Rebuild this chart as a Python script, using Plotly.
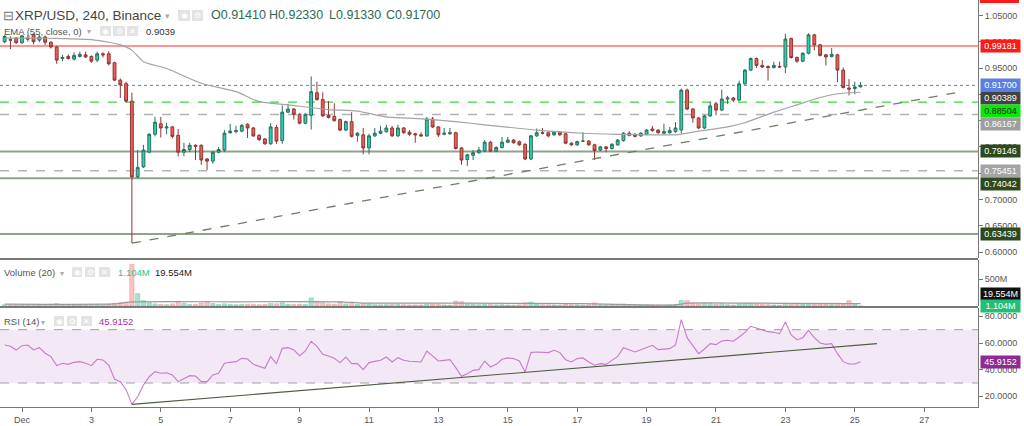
import plotly.graph_objects as go
import pandas as pd

# ---------------- data ----------------
start_time = '2018-11-30 12:00'
n_candles = 149

opens = [1.000, 1.004, 1.007, 0.998, 1.007, 1.014, 1.003, 1.009, 0.999, 0.990,
         0.968, 0.972, 0.967, 0.972, 0.975, 0.972, 0.965, 0.977, 0.977, 0.960,
         0.927, 0.920, 0.887, 0.743, 0.762, 0.790, 0.824, 0.844, 0.836, 0.838,
         0.822, 0.790, 0.795, 0.803, 0.803, 0.777, 0.773, 0.790, 0.794, 0.827,
         0.829, 0.830, 0.843, 0.836, 0.822, 0.815, 0.806, 0.837, 0.812, 0.866,
         0.872, 0.862, 0.845, 0.860, 0.903, 0.890, 0.860, 0.858, 0.852, 0.832,
         0.848, 0.822, 0.823, 0.798, 0.821, 0.826, 0.829, 0.836, 0.821, 0.836,
         0.828, 0.825, 0.823, 0.821, 0.853, 0.838, 0.824, 0.825, 0.827, 0.798,
         0.776, 0.784, 0.789, 0.792, 0.809, 0.792, 0.799, 0.809, 0.813, 0.810,
         0.805, 0.777, 0.821, 0.827, 0.827, 0.823, 0.828, 0.825, 0.807, 0.804,
         0.811, 0.811, 0.804, 0.794, 0.800, 0.797, 0.804, 0.812, 0.826, 0.824,
         0.821, 0.824, 0.834, 0.832, 0.826, 0.827, 0.829, 0.832, 0.908, 0.872,
         0.855, 0.836, 0.859, 0.882, 0.870, 0.891, 0.893, 0.889, 0.920, 0.946,
         0.968, 0.955, 0.953, 0.951, 0.953, 0.952, 1.006, 0.970, 0.963, 0.978,
         1.013, 0.994, 0.975, 0.972, 0.975, 0.946, 0.912, 0.911, 0.9141]
highs = [1.013, 1.010, 1.009, 1.013, 1.012, 1.016, 1.013, 1.012, 1.001, 0.992,
         0.975, 0.976, 0.980, 0.981, 0.981, 0.974, 0.981, 0.980, 0.982, 0.962,
         0.930, 0.924, 0.903, 0.794, 0.804, 0.826, 0.857, 0.857, 0.846, 0.840,
         0.834, 0.808, 0.808, 0.805, 0.805, 0.779, 0.792, 0.800, 0.832, 0.844,
         0.840, 0.843, 0.845, 0.838, 0.824, 0.817, 0.845, 0.842, 0.879, 0.882,
         0.874, 0.864, 0.864, 0.934, 0.924, 0.904, 0.887, 0.883, 0.854, 0.850,
         0.866, 0.828, 0.836, 0.825, 0.836, 0.840, 0.842, 0.840, 0.842, 0.838,
         0.832, 0.827, 0.828, 0.857, 0.857, 0.840, 0.836, 0.836, 0.829, 0.800,
         0.787, 0.794, 0.800, 0.813, 0.811, 0.801, 0.819, 0.819, 0.815, 0.812,
         0.807, 0.823, 0.835, 0.836, 0.829, 0.830, 0.830, 0.827, 0.809, 0.812,
         0.828, 0.813, 0.806, 0.802, 0.802, 0.807, 0.815, 0.828, 0.830, 0.826,
         0.828, 0.834, 0.840, 0.834, 0.844, 0.838, 0.847, 0.911, 0.911, 0.874,
         0.857, 0.861, 0.886, 0.886, 0.909, 0.897, 0.895, 0.926, 0.948, 0.970,
         0.970, 0.965, 0.955, 0.962, 0.962, 1.015, 1.008, 0.972, 0.980, 1.016,
         1.015, 0.996, 0.977, 0.988, 0.977, 0.951, 0.929, 0.924, 0.9233]
lows = [0.997, 0.986, 0.996, 0.996, 1.000, 0.995, 0.999, 0.994, 0.987, 0.958,
        0.963, 0.966, 0.964, 0.970, 0.969, 0.960, 0.961, 0.970, 0.955, 0.925,
        0.893, 0.884, 0.617, 0.740, 0.760, 0.788, 0.820, 0.818, 0.824, 0.816,
        0.782, 0.782, 0.790, 0.775, 0.766, 0.756, 0.768, 0.788, 0.790, 0.825,
        0.826, 0.828, 0.817, 0.819, 0.811, 0.804, 0.804, 0.806, 0.806, 0.865,
        0.852, 0.843, 0.843, 0.833, 0.888, 0.857, 0.854, 0.848, 0.830, 0.830,
        0.818, 0.810, 0.786, 0.786, 0.819, 0.824, 0.827, 0.819, 0.819, 0.825,
        0.821, 0.808, 0.819, 0.819, 0.836, 0.819, 0.822, 0.823, 0.795, 0.766,
        0.764, 0.775, 0.787, 0.790, 0.790, 0.790, 0.797, 0.807, 0.806, 0.802,
        0.775, 0.775, 0.819, 0.824, 0.818, 0.821, 0.821, 0.805, 0.802, 0.802,
        0.809, 0.802, 0.775, 0.792, 0.790, 0.795, 0.802, 0.810, 0.820, 0.818,
        0.819, 0.822, 0.829, 0.825, 0.824, 0.825, 0.827, 0.826, 0.870, 0.846,
        0.834, 0.834, 0.857, 0.860, 0.868, 0.882, 0.885, 0.887, 0.918, 0.944,
        0.950, 0.950, 0.926, 0.949, 0.950, 0.940, 0.968, 0.960, 0.961, 0.976,
        0.984, 0.972, 0.955, 0.970, 0.923, 0.911, 0.898, 0.900, 0.9133]
closes = [1.010, 1.003, 0.998, 1.011, 1.005, 1.000, 1.009, 0.999, 0.990, 0.965,
          0.970, 0.968, 0.974, 0.976, 0.971, 0.963, 0.977, 0.975, 0.958, 0.927,
          0.918, 0.887, 0.743, 0.761, 0.794, 0.824, 0.847, 0.836, 0.838, 0.820,
          0.790, 0.795, 0.803, 0.801, 0.775, 0.773, 0.790, 0.795, 0.826, 0.830,
          0.831, 0.841, 0.836, 0.821, 0.814, 0.806, 0.838, 0.811, 0.866, 0.872,
          0.862, 0.845, 0.862, 0.905, 0.890, 0.859, 0.856, 0.850, 0.832, 0.848,
          0.820, 0.826, 0.798, 0.821, 0.826, 0.830, 0.836, 0.821, 0.836, 0.827,
          0.824, 0.823, 0.821, 0.853, 0.838, 0.823, 0.826, 0.827, 0.797, 0.775,
          0.785, 0.789, 0.794, 0.809, 0.792, 0.799, 0.809, 0.813, 0.808, 0.804,
          0.777, 0.821, 0.827, 0.826, 0.821, 0.828, 0.823, 0.807, 0.804, 0.810,
          0.811, 0.804, 0.793, 0.800, 0.797, 0.805, 0.813, 0.826, 0.822, 0.820,
          0.826, 0.832, 0.831, 0.827, 0.829, 0.831, 0.836, 0.908, 0.872, 0.855,
          0.836, 0.859, 0.878, 0.870, 0.891, 0.893, 0.889, 0.920, 0.946, 0.968,
          0.955, 0.952, 0.951, 0.955, 0.952, 1.005, 0.970, 0.963, 0.978, 1.013,
          0.994, 0.974, 0.971, 0.976, 0.946, 0.913, 0.910, 0.914, 0.9170]

volumes_m = [25, 20, 22, 28, 18, 30, 22, 26, 30, 45,
             25, 20, 22, 18, 20, 28, 30, 18, 35, 50,
             60, 70, 770, 230, 100, 60, 40, 30, 25, 40,
             80, 50, 30, 30, 55, 80, 45, 30, 40, 30,
             25, 30, 35, 30, 25, 28, 45, 40, 60, 35,
             30, 35, 30, 150, 90, 60, 40, 35, 80, 40,
             45, 30, 45, 40, 25, 22, 25, 30, 28, 25,
             20, 22, 20, 40, 35, 30, 20, 18, 90, 80,
             40, 30, 25, 30, 28, 22, 25, 20, 18, 22,
             60, 70, 35, 25, 22, 20, 18, 40, 25, 22,
             18, 22, 60, 25, 20, 22, 28, 35, 25, 22,
             20, 25, 22, 20, 18, 22, 28, 100, 100, 60,
             40, 50, 45, 35, 45, 25, 20, 40, 45, 50,
             40, 30, 25, 20, 18, 50, 45, 30, 30, 40,
             35, 30, 28, 25, 50, 40, 100, 30, 1.104]

rsi = [58.5, 57.5, 54.7, 58.0, 58.5, 54.8, 56.5, 52.3, 49.8, 43.0,
       44.8, 44.0, 45.5, 46.0, 44.8, 43.0, 47.8, 47.3, 43.5, 33.0,
       31.0, 25.0, 14.0, 19.7, 28.5, 34.7, 38.5, 37.3, 37.7, 36.0,
       31.0, 33.0, 35.5, 35.2, 31.0, 31.0, 36.0, 37.3, 44.8, 45.5,
       46.0, 48.5, 48.0, 44.0, 42.5, 41.0, 49.8, 44.3, 56.0, 56.5,
       54.8, 50.5, 54.0, 61.3, 57.5, 51.5, 50.3, 48.5, 45.3, 49.5,
       44.5, 44.5, 40.0, 45.3, 46.2, 47.0, 49.5, 45.8, 49.0, 47.0,
       46.3, 45.8, 45.8, 54.0, 50.5, 46.5, 47.0, 47.5, 41.5, 35.0,
       37.0, 39.5, 40.0, 46.5, 42.0, 44.0, 47.8, 48.8, 48.3, 46.5,
       38.3, 52.8, 53.2, 53.0, 52.8, 54.5, 52.8, 47.5, 45.8, 48.3,
       48.8, 45.8, 43.3, 44.5, 44.0, 47.0, 50.0, 56.5, 55.0, 53.3,
       55.0, 56.8, 58.3, 55.0, 55.5, 55.8, 58.5, 77.5, 64.0, 58.0,
       52.0, 55.5, 59.5, 58.8, 61.5, 62.0, 61.3, 64.5, 68.0, 72.5,
       71.0, 69.8, 68.5, 68.0, 67.0, 75.8, 66.0, 62.5, 64.0, 69.5,
       64.0, 60.0, 59.0, 59.5, 52.0, 46.0, 44.2, 44.2, 45.9152]

ema_idx = [0, 5, 10, 15, 18, 20, 22, 24, 28, 34, 40, 44, 49, 56, 61, 66,
           73, 78, 83, 92, 100, 106, 112, 116, 120, 125, 128, 133, 137, 141, 144, 148]
ema_val = [1.007, 1.007, 1.006, 1.004, 0.999, 0.994, 0.984, 0.962, 0.949, 0.921,
           0.905, 0.886, 0.880, 0.871, 0.868, 0.857, 0.853, 0.848, 0.842, 0.832,
           0.826, 0.824, 0.823, 0.823, 0.830, 0.838, 0.846, 0.866, 0.880, 0.894,
           0.901, 0.9039]

vma_idx = [0, 19, 22, 40, 58, 62, 80, 100, 108, 112, 116, 118, 135, 148]
vma_val = [35, 38, 75, 78, 78, 55, 52, 45, 25, 15, 20, 55, 50, 45]

trend_price_t = ['2018-12-04 04:00', '2018-12-28 00:40']
trend_price_v = [0.617, 0.9044]
trend_rsi_t = ['2018-12-04 04:00', '2018-12-25 15:20']
trend_rsi_v = [14.0, 59.5]

# horizontal levels: value, line colour, dash, width, label bg, label text colour
levels = [
    (0.99181, '#ff2a2a', 'solid', 1.2, '#ff1a1a', 'white'),
    (0.91700, '#5a7be0', 'dot', 1.0, '#5b7fe0', 'white'),
    (0.88504, '#3ad83a', 'dash', 1.2, '#0be60b', '#10300f'),
    (0.86167, '#b4b4b4', 'dash', 1.5, '#9e9e9e', 'white'),
    (0.79146, '#8fa28a', 'solid', 2.0, '#2c4a1e', 'white'),
    (0.75451, '#b4b4b4', 'dash', 1.5, '#a4a4a4', 'white'),
    (0.74042, '#8fa28a', 'solid', 2.0, '#2c4a1e', 'white'),
    (0.63439, '#8fa28a', 'solid', 2.0, '#2c4a1e', 'white'),
]
ema_label = (0.90389, '#424242', 'white')

price_ticks = [0.60, 0.65, 0.70, 0.75, 0.80, 0.85, 0.90, 0.95, 1.00, 1.05]
price_tick_text = ['0.60000', '0.65000', '0.70000', '', '0.80000', '', '', '0.95000', '1.00000', '1.05000']
rsi_ticks = [20, 40, 60, 80]
date_ticks = ['2018-12-01', '2018-12-03', '2018-12-05', '2018-12-07', '2018-12-09',
              '2018-12-11', '2018-12-13', '2018-12-15', '2018-12-17', '2018-12-19',
              '2018-12-21', '2018-12-23', '2018-12-25', '2018-12-27']
date_labels = ['Dec', '3', '5', '7', '9', '11', '13', '15', '17', '19', '21', '23', '25', '27']

# ---------------- layout constants ----------------
W, H = 1024, 426
PLOT_W = 978
PLOT_H = 407
MAIN_BOT = 258
VOL_TOP, VOL_BOT = 260, 306
RSI_TOP = 308
Y_MIN, Y_MAX = 0.5888, 1.0793
VOL_MAX = 852
RSI_MIN, RSI_MAX = 12.0, 86.25
FONT = 'Liberation Sans'

times = pd.date_range(start_time, periods=n_candles, freq='4h')


def px_x(x):
    return x / PLOT_W


def px_y(y):
    return 1 - y / PLOT_H


fig = go.Figure()

# candles
fig.add_trace(go.Candlestick(
    x=times, open=opens, high=highs, low=lows, close=closes,
    increasing=dict(line=dict(color='#2b6e5c', width=1), fillcolor='#2ccfb3'),
    decreasing=dict(line=dict(color='#8c3935', width=1), fillcolor='#ef5b55'),
    whiskerwidth=0, xaxis='x', yaxis='y', hoverinfo='skip'))

# EMA
fig.add_trace(go.Scatter(x=[times[i] for i in ema_idx], y=ema_val, mode='lines',
                         line=dict(color='#a3a3a3', width=1.2, shape='spline', smoothing=0.6),
                         xaxis='x', yaxis='y', hoverinfo='skip'))

# price trend line
fig.add_trace(go.Scatter(x=trend_price_t, y=trend_price_v, mode='lines',
                         line=dict(color='#6e7f62', width=1.3, dash='dash'),
                         xaxis='x', yaxis='y', hoverinfo='skip'))

# volume
vcol = ['rgba(38,196,150,0.42)' if c >= o else 'rgba(240,90,86,0.36)' for o, c in zip(opens, closes)]
vline = ['rgba(30,170,120,0.55)' if c >= o else 'rgba(230,80,80,0.5)' for o, c in zip(opens, closes)]
fig.add_trace(go.Bar(x=times, y=volumes_m, marker=dict(color=vcol, line=dict(color=vline, width=0.5)),
                     xaxis='x', yaxis='y2', hoverinfo='skip'))
fig.add_trace(go.Scatter(x=[times[i] for i in vma_idx], y=vma_val, mode='lines',
                         line=dict(color='#9a9a9a', width=1.2, shape='spline', smoothing=0.5),
                         xaxis='x', yaxis='y2', hoverinfo='skip'))

# RSI
fig.add_trace(go.Scatter(x=times, y=rsi, mode='lines', line=dict(color='#c77cc9', width=1.1),
                         xaxis='x', yaxis='y3', hoverinfo='skip'))
fig.add_trace(go.Scatter(x=trend_rsi_t, y=trend_rsi_v, mode='lines',
                         line=dict(color='#4b5e3e', width=1.1),
                         xaxis='x', yaxis='y3', hoverinfo='skip'))

shapes = []
# rsi band
shapes.append(dict(type='rect', xref='paper', x0=0, x1=1, yref='y3', y0=30, y1=70,
                   fillcolor='rgba(150,50,160,0.11)', line=dict(width=0), layer='below'))
for v in (30, 70):
    shapes.append(dict(type='line', xref='paper', x0=0, x1=1, yref='y3', y0=v, y1=v,
                       line=dict(color='#a0a0a0', width=1, dash='dash'), layer='below'))
# price levels
for val, lc, dash, lw, _, _ in levels:
    shapes.append(dict(type='line', xref='paper', x0=0, x1=1, yref='y', y0=val, y1=val,
                       line=dict(color=lc, width=lw, dash=dash), layer='below'))
# pane separators
for sy in (259, 307):
    shapes.append(dict(type='line', xref='paper', x0=0, x1=1, yref='paper', y0=px_y(sy), y1=px_y(sy),
                       line=dict(color='#7a7a7a', width=2)))
# cut red label at the very top of the price scale
shapes.append(dict(type='rect', xref='paper', x0=px_x(980), x1=px_x(1019), yref='paper',
                   y0=px_y(3), y1=px_y(0), fillcolor='#ff1a1a', line=dict(width=0)))

annotations = []


def text(x, y, s, size, color, anchor='left'):
    annotations.append(dict(xref='paper', yref='paper', x=px_x(x), y=px_y(y), text=s,
                            showarrow=False, xanchor=anchor, yanchor='middle', borderpad=0,
                            font=dict(family=FONT, size=size, color=color)))


def icon(x0, x1, y0, y1, glyph):
    shapes.append(dict(type='rect', xref='paper', yref='paper', x0=px_x(x0), x1=px_x(x1),
                       y0=px_y(y1), y1=px_y(y0), fillcolor='#e3e3e3', line=dict(width=0)))
    annotations.append(dict(xref='paper', yref='paper', x=px_x((x0 + x1) / 2), y=px_y((y0 + y1) / 2),
                            text=glyph, showarrow=False, xanchor='center', yanchor='middle',
                            font=dict(family='DejaVu Sans', size=8, color='white')))


# header line 1
text(8, 15, '⊟', 13, '#777', 'center')
text(14, 15, 'XRP/USD, 240, Binance', 13.5, '#444')
text(167, 16, '▾', 9, '#aaa', 'center')
icon(178, 190, 10, 21, '◉')
icon(192, 203, 10, 21, '⚙')
text(210, 15, 'O0.91410', 12.5, '#2e6b55')
text(268, 15, 'H0.92330', 12.5, '#2e6b55')
text(328, 15, 'L0.91330', 12.5, '#2e6b55')
text(385, 15, 'C0.91700', 12.5, '#2e6b55')
# header line 2
text(3, 31, 'EMA (55, close, 0)', 9.5, '#555')
text(89, 32, '▾', 8, '#aaa', 'center')
icon(100, 111, 26, 36, '◉')
icon(113, 125, 26, 36, '⚙')
icon(127, 138, 26, 36, '✕')
text(145, 31, '0.9039', 9.5, '#333')
# volume header
text(3, 272, 'Volume (20)', 9.5, '#555')
text(62, 273, '▾', 8, '#aaa', 'center')
icon(72, 82, 267, 277, '◉')
icon(85, 95, 267, 277, '⚙')
icon(99, 110, 267, 277, '✕')
text(117, 272, '1.104M', 9.5, '#35c08a')
text(154, 272, '19.554M', 9.5, '#222')
# rsi header
text(3, 321, 'RSI (14)', 9.5, '#555')
text(43, 322, '▾', 8, '#aaa', 'center')
icon(54, 64, 316, 326, '◉')
icon(67, 77, 316, 326, '⚙')
icon(81, 92, 316, 326, '✕')
text(98, 321, '45.9152', 9.5, '#9c36a6')


def price_px(p):
    return (Y_MAX - p) / (Y_MAX - Y_MIN) * MAIN_BOT


def axis_label(y_px, s, bg, fg):
    annotations.append(dict(xref='paper', yref='paper', x=1, y=px_y(y_px), xanchor='left',
                            yanchor='middle', xshift=2, text=s, showarrow=False,
                            width=37, height=10, borderpad=1, bgcolor=bg, align='center',
                            font=dict(family=FONT, size=9, color=fg)))


# stacked labels of the price scale
lab = [(v, bg, fg) for v, _, _, _, bg, fg in levels] + [ema_label]
lab.sort(key=lambda t: -t[0])
prev = -100
for v, bg, fg in lab:
    y = max(price_px(v), prev + 13)
    axis_label(y, f'{v:.5f}', bg, fg)
    prev = y

vol_px = VOL_BOT - volumes_m[-1] / VOL_MAX * (VOL_BOT - VOL_TOP)
axis_label(vol_px - 12, '19.554M', '#111111', 'white')
axis_label(vol_px, '1.104M', '#20c07a', 'white')
rsi_px = RSI_TOP + (RSI_MAX - rsi[-1]) / (RSI_MAX - RSI_MIN) * (PLOT_H - RSI_TOP)
axis_label(rsi_px, '45.9152', '#8e2a90', 'white')

tickfont = dict(family=FONT, size=9, color='#555')
common_y = dict(side='right', anchor='x', showgrid=False, zeroline=False, showline=True,
                linecolor='#777', linewidth=1, ticks='outside', ticklen=4, tickcolor='#777',
                tickfont=tickfont, fixedrange=True, automargin=False)

fig.update_layout(
    width=W, height=H, margin=dict(l=0, r=W - PLOT_W, t=0, b=H - PLOT_H, autoexpand=False),
    paper_bgcolor='white', plot_bgcolor='white', showlegend=False, hovermode=False,
    bargap=0.25,
    xaxis=dict(domain=[0, 1], anchor='y3', range=['2018-11-30 08:47', '2018-12-28 13:13'],
               tickvals=date_ticks, ticktext=date_labels, ticks='outside', ticklen=4,
               tickcolor='#777', showline=True, linecolor='#777', linewidth=1, showgrid=False,
               zeroline=False, tickfont=tickfont, rangeslider=dict(visible=False),
               fixedrange=True, automargin=False),
    yaxis=dict(domain=[px_y(MAIN_BOT), 1], range=[Y_MIN, Y_MAX],
               tickvals=price_ticks, ticktext=price_tick_text, **common_y),
    yaxis2=dict(domain=[px_y(VOL_BOT), px_y(VOL_TOP)], range=[0, VOL_MAX],
                tickvals=[500], ticktext=['500M'], **common_y),
    yaxis3=dict(domain=[0, px_y(RSI_TOP)], range=[RSI_MIN, RSI_MAX],
                tickvals=rsi_ticks, ticktext=[f'{t:.4f}' for t in rsi_ticks], **common_y),
    shapes=shapes, annotations=annotations,
)

fig.write_html('out.html')
